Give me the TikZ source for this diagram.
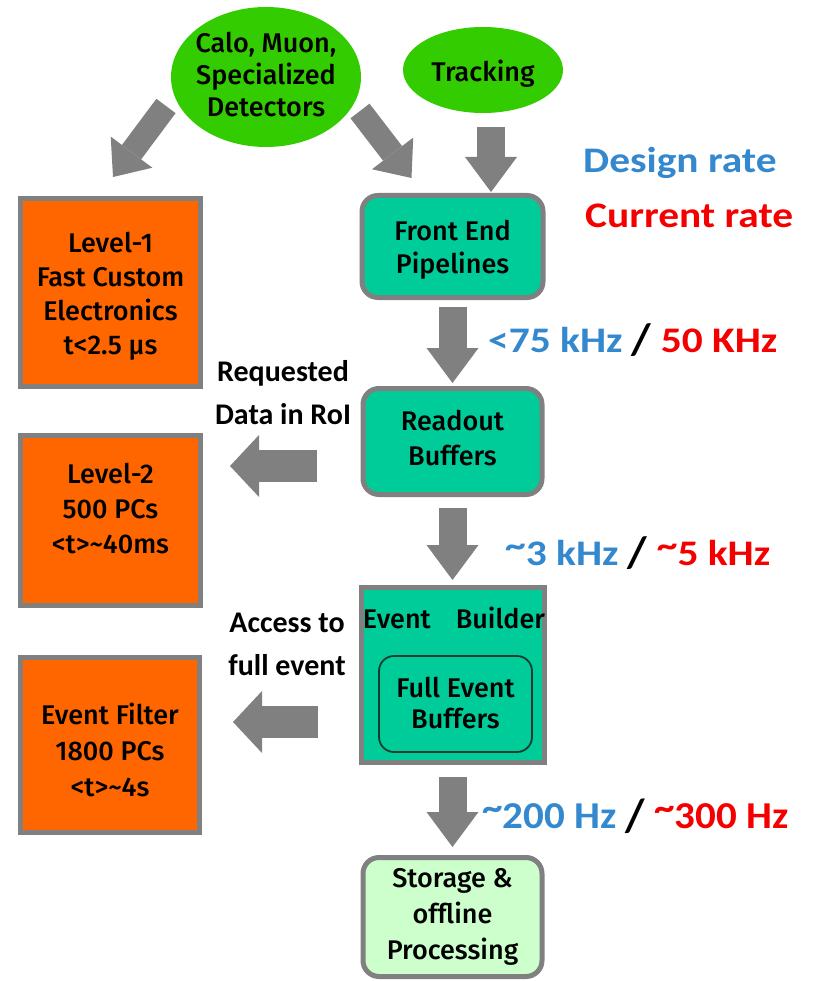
\documentclass[tikz,border=0pt]{standalone}
\usepackage{fontspec}
\usepackage{graphicx}
\setmainfont{Fira Sans}[UprightFont=* Medium]
\newfontfamily\ratefont{Carlito}
\usetikzlibrary{shapes.geometric,arrows.meta,calc}
\definecolor{lgreen}{RGB}{51,204,0}
\definecolor{tealc}{RGB}{0,204,153}
\definecolor{orng}{RGB}{255,102,0}
\definecolor{bgray}{RGB}{128,128,128}
\definecolor{agray}{RGB}{128,128,128}
\definecolor{paleg}{RGB}{204,255,204}
\definecolor{rblue}{RGB}{52,136,206}
\definecolor{rred}{RGB}{245,0,0}
\definecolor{innerb}{RGB}{20,60,50}
\newcommand\mytilde{\raisebox{0.2em}{\textasciitilde}}
\newcommand\myslash{\raisebox{-0.08em}{\scalebox{1.1}[1.22]{/}}}
\begin{document}
\begin{tikzpicture}[x=1pt,y=-1pt,
  boxtxt/.style={font=\fontsize{27}{34}\selectfont, align=center, inner sep=0pt},
  sidetxt/.style={font=\ratefont\bfseries\fontsize{30}{43}\selectfont, align=center, inner sep=0pt},
  ratetxt/.style={font=\ratefont\bfseries\fontsize{36}{40}\selectfont, inner sep=0pt, anchor=base west},
  frame/.style={draw=bgray, line width=5pt, inner sep=0pt},
  orangebox/.style={frame, fill=orng},
  tealbox/.style={frame, fill=tealc, rounded corners=16pt},
  blob/.style={ellipse, fill=lgreen, inner sep=0pt},
  vblk/.style={draw=agray, line width=28pt, -{Triangle[width=52pt,length=35pt,line width=0pt]}},
  hblk/.style={draw=agray, line width=32pt, -{Triangle[width=62pt,length=29pt,line width=0pt]}},
  dblk/.style={draw=agray, line width=24pt, -{Triangle[width=52pt,length=31pt,line width=0pt]}}
]
\useasboundingbox (0,0) rectangle (812,981);

% detectors
\node[blob, minimum width=190pt, minimum height=140pt] (calo) at (266,77) {};
\node[boxtxt, font=\fontsize{27}{32}\selectfont] (calotxt) at (266,75) {Calo, Muon,\\Specialized\\Detectors};
\node[blob, minimum width=160pt, minimum height=86pt] (trk) at (483,70) {};
\node[boxtxt, anchor=base] (trktxt) at (483,82) {Tracking};

% left column
\node[orangebox, minimum width=180pt, minimum height=188pt] (l1) at (110.5,292.5) {};
\node[boxtxt] (l1txt) at (110.5,296) {Level-1\\Fast Custom\\Electronics\\t<2.5 μs};
\node[orangebox, minimum width=180pt, minimum height=170pt] (l2) at (110.5,520.5) {};
\node[boxtxt, font=\fontsize{27}{35}\selectfont] (l2txt) at (110.5,509) {Level-2\\500 PCs\\<t>\textasciitilde 40ms};
\node[orangebox, minimum width=179pt, minimum height=175pt] (ef) at (110,745) {};
\node[boxtxt, font=\fontsize{27}{36}\selectfont] (eftxt) at (110,750) {Event Filter\\1800 PCs\\<t>\textasciitilde 4s};

% right column
\node[tealbox, minimum width=181pt, minimum height=102pt] (fe) at (452.5,246.5) {};
\node[boxtxt, font=\fontsize{27}{33}\selectfont] (fetxt) at (452.5,249.5) {Front End\\Pipelines};
\node[tealbox, minimum width=179pt, minimum height=106pt] (ro) at (452.5,441.5) {};
\node[boxtxt, font=\fontsize{27}{35}\selectfont] (rotxt) at (452.5,438) {Readout\\Buffers};
\node[frame, fill=tealc, minimum width=183pt, minimum height=175pt] (eb) at (452.5,675) {};
\node[boxtxt, anchor=base] (ebtxt) at (454,628) {Event\hspace{25pt}Builder};
\node[draw=innerb, line width=1.8pt, rounded corners=15pt, minimum width=153pt, minimum height=96pt, inner sep=0pt] (feb) at (455.5,704) {};
\node[boxtxt, font=\fontsize{27}{31}\selectfont] (febtxt) at (455.5,703) {Full Event\\Buffers};
\node[frame, fill=paleg, rounded corners=16pt, minimum width=179pt, minimum height=119pt] (st) at (452.5,917) {};
\node[boxtxt, font=\fontsize{27}{36}\selectfont] (sttxt) at (452.5,917) {Storage \&\\offline\\Processing};

% side labels
\node[sidetxt] (req) at (283,393) {Requested\\Data in RoI};
\node[sidetxt] (acc) at (287,644) {Access to\\full event};

% rate labels
\node[ratetxt] (design) at (583,173) {\scalebox{1.15}[1]{\textcolor{rblue}{Design rate}}};
\node[ratetxt] (current) at (585,228) {\scalebox{1.15}[1]{\textcolor{rred}{Current rate}}};
\node[ratetxt] (rate1) at (488,352) {\scalebox{1.15}[1]{\textcolor{rblue}{<75 kHz} \myslash{} \textcolor{rred}{50 KHz}}};
\node[ratetxt] (rate2) at (505,565) {\scalebox{1.15}[1]{\textcolor{rblue}{\mytilde 3 kHz} \myslash{} \textcolor{rred}{\mytilde 5 kHz}}};
\node[ratetxt, font=\ratefont\bfseries\fontsize{38}{42}\selectfont] (rate3) at (482,828) {\scalebox{1.08}[1]{\textcolor{rblue}{\mytilde 200 Hz} \myslash{} \textcolor{rred}{\mytilde 300 Hz}}};

% arrows
\draw[dblk] ($(calo.center)+(-100,29)$) -- ($(l1.north)+(2.5,-19)$);
\draw[dblk] ($(calo.center)+(94,34)$) -- ($(fe.north)+(-41,-15)$);
\draw[vblk] ($(trk.center)+(8,57)$) -- ($(fe.north)+(38.5,-1)$);
\draw[vblk] ($(fe.south)+(0,7)$) -- ($(ro.north)+(0,-3)$);
\draw[vblk] ($(ro.south)+(0,11)$) -- ($(eb.north)+(0,-5)$);
\draw[vblk] ($(eb.south)+(0,12)$) -- ($(st.north)+(0,-8)$);
\draw[hblk] ($(ro.west)+(-44,24.5)$) -- ($(l2.east)+(27,-54.5)$);
\draw[hblk] ($(eb.west)+(-40.5,47)$) -- ($(ef.east)+(31,-23)$);
\end{tikzpicture}
\end{document}
